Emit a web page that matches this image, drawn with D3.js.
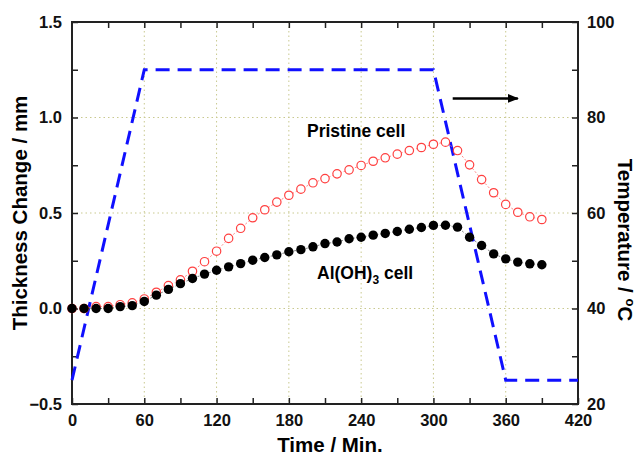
<!DOCTYPE html>
<html>
<head>
<meta charset="utf-8">
<script src="https://cdn.jsdelivr.net/npm/d3@7"></script>
<style>
  body { margin: 0; background: #fff; }
  svg { font-family: "Liberation Sans", Arial, sans-serif; }
</style>
</head>
<body>
<div id="chart"></div>
<script>
// time axis (minutes), samples every 10 min
const times = d3.range(0, 400, 10);
const pristine = [0.0, 0.0, 0.01, 0.01, 0.02, 0.03, 0.05, 0.085, 0.12, 0.15,
  0.195, 0.245, 0.30, 0.367, 0.42, 0.475, 0.517, 0.557, 0.593, 0.625,
  0.658, 0.68, 0.705, 0.726, 0.749, 0.771, 0.789, 0.808, 0.827, 0.843,
  0.86, 0.871, 0.827, 0.752, 0.675, 0.606, 0.545, 0.504, 0.48, 0.466];
const alOH3 = [0.0, 0.0, 0.0, 0.0, 0.01, 0.015, 0.037, 0.07, 0.10, 0.13,
  0.157, 0.18, 0.2, 0.218, 0.235, 0.253, 0.267, 0.281, 0.297, 0.308,
  0.323, 0.34, 0.348, 0.365, 0.373, 0.384, 0.393, 0.403, 0.415, 0.424,
  0.435, 0.436, 0.426, 0.373, 0.33, 0.286, 0.26, 0.243, 0.234, 0.229];
// temperature profile
const tempTimes = [0, 60, 300, 360, 420];
const tempValues = [25, 90, 90, 25, 25];
const xTicks = [0, 60, 120, 180, 240, 300, 360, 420];
const yTicks = [-0.5, 0.0, 0.5, 1.0, 1.5];
const y2Ticks = [20, 40, 60, 80, 100];

const W = 637, H = 457;
const margin = { top: 22, right: 59, bottom: 53, left: 72 };
const width = W - margin.left - margin.right;
const height = H - margin.top - margin.bottom;

const svg = d3.select("#chart").append("svg")
  .attr("width", W)
  .attr("height", H);
const g = svg.append("g")
  .attr("transform", "translate(" + margin.left + "," + margin.top + ")");

const x = d3.scaleLinear().domain([0, 420]).range([0, width]);
const y = d3.scaleLinear().domain([-0.5, 1.5]).range([height, 0]);
const y2 = d3.scaleLinear().domain([20, 100]).range([height, 0]);

// dotted grid at inner major ticks
g.selectAll("line.vgrid")
  .data(xTicks.slice(1, -1))
  .enter().append("line")
  .attr("x1", d => x(d)).attr("x2", d => x(d))
  .attr("y1", 0).attr("y2", height)
  .style("stroke", "#c9c98f")
  .style("stroke-width", 1)
  .style("stroke-dasharray", "1.5 3");
g.selectAll("line.hgrid")
  .data(yTicks.slice(1, -1))
  .enter().append("line")
  .attr("x1", 0).attr("x2", width)
  .attr("y1", d => y(d)).attr("y2", d => y(d))
  .style("stroke", "#c9c98f")
  .style("stroke-width", 1)
  .style("stroke-dasharray", "1.5 3");

// axes with inward ticks
const axisStyle = sel => {
  sel.select(".domain").remove();
  sel.selectAll(".tick line").style("stroke", "#222").style("stroke-width", 1.5);
  sel.selectAll("text")
    .style("font-size", "16.5px")
    .style("font-weight", "bold")
    .style("fill", "#111");
};

g.append("g")
  .attr("transform", "translate(0," + height + ")")
  .call(d3.axisBottom(x).tickValues(d3.range(0, 421, 30))
    .tickSize(-6).tickPadding(10)
    .tickFormat(d => xTicks.includes(d) ? d : ""))
  .call(axisStyle);
g.append("g")
  .call(d3.axisTop(x).tickValues(d3.range(30, 420, 30)).tickSize(-6).tickFormat(""))
  .call(axisStyle);
g.append("g")
  .call(d3.axisLeft(y).tickValues(d3.range(-0.5, 1.51, 0.25))
    .tickSize(-6).tickPadding(10)
    .tickFormat(d => yTicks.some(v => Math.abs(v - d) < 1e-9) ? d3.format(".1f")(d) : ""))
  .call(axisStyle);
g.append("g")
  .attr("transform", "translate(" + width + ",0)")
  .call(d3.axisRight(y2).tickValues(d3.range(20, 101, 10))
    .tickSize(-6).tickPadding(9)
    .tickFormat(d => y2Ticks.includes(d) ? d : ""))
  .call(axisStyle);

// frame
g.append("rect")
  .attr("width", width).attr("height", height)
  .attr("fill", "none")
  .style("stroke", "#222")
  .style("stroke-width", 2);

// temperature dashed line
const tempData = tempTimes.map((t, i) => [t, tempValues[i]]);
g.append("path")
  .datum(tempData)
  .attr("d", d3.line().x(d => x(d[0])).y(d => y2(d[1])))
  .attr("fill", "none")
  .style("stroke", "#1010ff")
  .style("stroke-width", 3)
  .style("stroke-dasharray", "14 8");

// pristine cell: open red circles joined by a thin line
const pData = times.map((t, i) => [t, pristine[i]]);
g.append("path")
  .datum(pData)
  .attr("d", d3.line().x(d => x(d[0])).y(d => y(d[1])))
  .attr("fill", "none")
  .style("stroke", "#ff6a6a")
  .style("stroke-width", 0.8)
  .style("stroke-dasharray", "2 2");
g.selectAll("circle.p")
  .data(pData)
  .enter().append("circle")
  .attr("cx", d => x(d[0]))
  .attr("cy", d => y(d[1]))
  .attr("r", 4.2)
  .attr("fill", "#fff")
  .style("stroke", "#ff4040")
  .style("stroke-width", 1.2);

// Al(OH)3 cell: filled black dots
const aData = times.map((t, i) => [t, alOH3[i]]);
g.append("path")
  .datum(aData)
  .attr("d", d3.line().x(d => x(d[0])).y(d => y(d[1])))
  .attr("fill", "none")
  .style("stroke", "#666")
  .style("stroke-width", 0.8)
  .style("stroke-dasharray", "2 2");
g.selectAll("circle.a")
  .data(aData)
  .enter().append("circle")
  .attr("cx", d => x(d[0]))
  .attr("cy", d => y(d[1]))
  .attr("r", 4.7)
  .attr("fill", "#000");

// arrow pointing to the temperature axis
svg.append("defs").append("marker")
  .attr("id", "head")
  .attr("viewBox", "0 0 10 10")
  .attr("refX", 9).attr("refY", 5)
  .attr("markerWidth", 4.5).attr("markerHeight", 4.5)
  .attr("markerUnits", "strokeWidth")
  .attr("orient", "auto")
  .append("path").attr("d", "M0,1 L10,5 L0,9 Z").attr("fill", "#000");
g.append("line")
  .attr("x1", x(316)).attr("x2", x(370))
  .attr("y1", y2(84)).attr("y2", y2(84))
  .style("stroke", "#000")
  .style("stroke-width", 2.5)
  .attr("marker-end", "url(#head)");

// series labels
g.append("text")
  .attr("x", 235).attr("y", 115)
  .style("font-size", "17.5px").style("font-weight", "bold")
  .text("Pristine cell");
const al = g.append("text")
  .attr("x", 245).attr("y", 257)
  .style("font-size", "17.5px").style("font-weight", "bold");
al.append("tspan").text("Al(OH)");
al.append("tspan").attr("dy", 5).style("font-size", "12px").text("3");
al.append("tspan").attr("dy", -5).text(" cell");

// axis titles
svg.append("text")
  .attr("x", margin.left + width / 2 + 5).attr("y", 452)
  .attr("text-anchor", "middle")
  .style("font-size", "20.5px").style("font-weight", "bold")
  .text("Time / Min.");
svg.append("text")
  .attr("transform", "translate(27," + (margin.top + height / 2) + ") rotate(-90)")
  .attr("text-anchor", "middle")
  .style("font-size", "20.5px").style("font-weight", "bold")
  .text("Thickness Change / mm");
const t2 = svg.append("text")
  .attr("transform", "translate(618,240) rotate(90)")
  .attr("text-anchor", "middle")
  .style("font-size", "20.5px").style("font-weight", "bold");
t2.append("tspan").text("Temperature / ");
t2.append("tspan").attr("dy", -8).style("font-size", "13px").text("o");
t2.append("tspan").attr("dy", 8).text("C");
</script>
</body>
</html>
